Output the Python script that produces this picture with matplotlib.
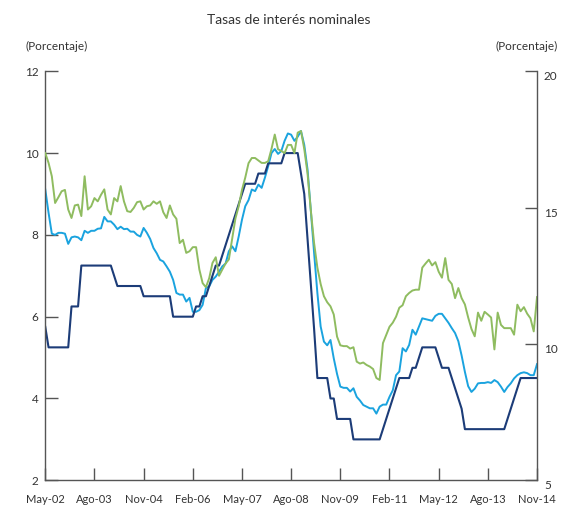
import matplotlib
matplotlib.use('Agg')
import matplotlib.pyplot as plt
import numpy as np

plt.rcParams['font.family'] = ['Lato', 'DejaVu Sans']

# month labels every 15 months from May-02 to Nov-14 (151 monthly points)
tick_labels = ['May-02', 'Ago-03', 'Nov-04', 'Feb-06', 'May-07', 'Ago-08',
               'Nov-09', 'Feb-11', 'May-12', 'Ago-13', 'Nov-14']

# policy rate (left axis)
policy = [5.75, 5.25, 5.25, 5.25, 5.25, 5.25, 5.25, 5.25, 6.25, 6.25,
          6.25, 7.25, 7.25, 7.25, 7.25, 7.25, 7.25, 7.25, 7.25, 7.25,
          7.25, 7.0, 6.75, 6.75, 6.75, 6.75, 6.75, 6.75, 6.75, 6.75,
          6.5, 6.5, 6.5, 6.5, 6.5, 6.5, 6.5, 6.5, 6.5, 6.0,
          6.0, 6.0, 6.0, 6.0, 6.0, 6.0, 6.25, 6.25, 6.5, 6.5,
          6.75, 7.0, 7.25, 7.25, 7.5, 7.75, 8.0, 8.25, 8.5, 8.75,
          9.0, 9.25, 9.25, 9.25, 9.25, 9.5, 9.5, 9.5, 9.75, 9.75,
          9.75, 9.75, 9.75, 10.0, 10.0, 10.0, 10.0, 10.0, 9.5, 9.0,
          7.9, 6.8, 5.7, 4.5, 4.5, 4.5, 4.5, 4.0, 4.0, 3.5,
          3.5, 3.5, 3.5, 3.5, 3.0, 3.0, 3.0, 3.0, 3.0, 3.0,
          3.0, 3.0, 3.0, 3.25, 3.5, 3.75, 4.0, 4.25, 4.5, 4.5,
          4.5, 4.5, 4.75, 4.75, 5.0, 5.25, 5.25, 5.25, 5.25, 5.25,
          5.0, 4.75, 4.75, 4.75, 4.5, 4.25, 4.0, 3.75, 3.25, 3.25,
          3.25, 3.25, 3.25, 3.25, 3.25, 3.25, 3.25, 3.25, 3.25, 3.25,
          3.25, 3.5, 3.75, 4.0, 4.25, 4.5, 4.5, 4.5, 4.5, 4.5,
          4.5]

# deposit rate (left axis)
deposit = [9.11, 8.54, 8.03, 8.0, 8.05, 8.05, 8.03, 7.78, 7.94, 7.96,
           7.94, 7.87, 8.1, 8.05, 8.1, 8.1, 8.15, 8.16, 8.44, 8.33,
           8.33, 8.25, 8.14, 8.2, 8.14, 8.15, 8.08, 8.08, 8.0, 7.96,
           8.17, 8.05, 7.9, 7.68, 7.55, 7.39, 7.35, 7.23, 7.1, 6.9,
           6.58, 6.54, 6.54, 6.37, 6.46, 6.12, 6.12, 6.16, 6.29, 6.7,
           6.74, 6.9, 6.98, 7.1, 7.23, 7.3, 7.6, 7.72, 7.6, 7.96,
           8.37, 8.7, 8.85, 9.11, 9.07, 9.23, 9.15, 9.4, 9.68, 10.0,
           10.1, 9.98, 10.05, 10.3, 10.48, 10.45, 10.3, 10.4, 10.54, 10.2,
           9.6, 8.6, 7.56, 6.58, 5.76, 5.39, 5.3, 5.43, 4.98, 4.6,
           4.29, 4.26, 4.26, 4.17, 4.25, 4.04, 3.95, 3.84, 3.8, 3.76,
           3.76, 3.63, 3.8, 3.85, 3.85, 4.04, 4.2, 4.57, 4.66, 5.23,
           5.15, 5.31, 5.68, 5.56, 5.76, 5.96, 5.94, 5.92, 5.9, 6.02,
           6.07, 6.07, 5.96, 5.85, 5.72, 5.6, 5.4, 5.05, 4.65, 4.3,
           4.16, 4.24, 4.37, 4.38, 4.38, 4.4, 4.38, 4.45, 4.4, 4.29,
           4.16, 4.28, 4.37, 4.49, 4.57, 4.62, 4.64, 4.62, 4.57, 4.57,
           4.84]

# lending rate (right axis)
lending = [17.0, 16.64, 16.15, 15.17, 15.38, 15.6, 15.65, 14.93, 14.62, 15.08,
           15.11, 14.69, 16.15, 14.93, 15.05, 15.35, 15.23, 15.47, 15.67, 14.93,
           14.75, 15.35, 15.23, 15.79, 15.23, 14.87, 14.84, 14.99, 15.2, 15.23,
           14.93, 15.05, 15.08, 15.23, 15.14, 15.23, 14.83, 14.62, 15.08, 14.75,
           14.59, 13.7, 13.82, 13.34, 13.4, 13.55, 13.55, 12.73, 12.23, 12.08,
           12.41, 12.97, 13.18, 12.5, 12.73, 12.95, 13.1, 13.85, 14.6, 15.05,
           15.65, 16.1, 16.63, 16.82, 16.82, 16.73, 16.64, 16.64, 16.7, 17.15,
           17.68, 17.14, 17.08, 17.0, 17.3, 17.3, 17.0, 17.75, 17.81, 17.15,
           16.25, 14.9, 13.7, 12.8, 12.2, 11.75, 11.53, 11.38, 11.08, 10.27,
           9.95, 9.92, 9.92, 9.83, 9.88, 9.35, 9.28, 9.32, 9.23, 9.17,
           9.08, 8.75, 8.68, 10.03, 10.33, 10.63, 10.78, 11.0, 11.33, 11.42,
           11.75, 11.87, 11.96, 11.99, 11.99, 12.8, 12.95, 13.09, 12.88, 13.0,
           12.65, 12.43, 13.15, 12.35, 12.2, 11.68, 12.05, 11.68, 11.45, 10.97,
           10.55, 10.28, 11.15, 10.85, 11.18, 11.08, 10.97, 9.8, 11.15, 10.7,
           10.58, 10.58, 10.58, 10.34, 11.44, 11.2, 11.35, 11.11, 10.94, 10.46,
           11.72]

months = np.arange(len(policy))
axis_col = '#555555'
text_col = '#333333'

fig = plt.figure(figsize=(5.88, 5.14), dpi=100)
ax = fig.add_axes([0.077, 0.0656, 0.8363, 0.7957])
ax2 = ax.twinx()

ax.plot(months, deposit, color='#1aa3df', lw=1.4)
ax.plot(months, policy, color='#1c3c78', lw=1.5)
ax2.plot(months, lending, color='#8fbc60', lw=1.4)

ax.set_xlim(0, 150)
ax.set_ylim(2, 12)
ax2.set_ylim(5, 20)
ax.set_yticks([2, 4, 6, 8, 10, 12])
ax2.set_yticks([5, 10, 15, 20])
ax.set_xticks(np.arange(0, 151, 15))
ax.set_xticklabels(tick_labels)

for a in (ax, ax2):
    a.spines['top'].set_visible(False)
    for s in a.spines.values():
        s.set_color(axis_col)
        s.set_linewidth(1.0)
ax.spines['right'].set_visible(False)
ax2.spines['left'].set_visible(False)
ax2.spines['bottom'].set_visible(False)

ax.tick_params(axis='both', direction='in', length=9, width=1.0,
               color=axis_col, labelcolor=text_col, labelsize=8.5)
ax.tick_params(axis='x', pad=10, labelsize=8)
ax.tick_params(axis='y', pad=5)
ax2.tick_params(axis='y', direction='in', length=9, width=1.0,
                color=axis_col, labelcolor=text_col, labelsize=8.5, pad=5)
for lab in ax2.get_yticklabels():
    lab.set_va('top')

fig.text(0.4915, 0.961, 'Tasas de interés nominales', ha='center', va='center',
         fontsize=10, color=text_col)
fig.text(0.044, 0.909, '(Porcentaje)', ha='left', va='center',
         fontsize=8.5, color=text_col)
fig.text(0.949, 0.909, '(Porcentaje)', ha='right', va='center',
         fontsize=8.5, color=text_col)

fig.savefig('out.png', dpi=100)
